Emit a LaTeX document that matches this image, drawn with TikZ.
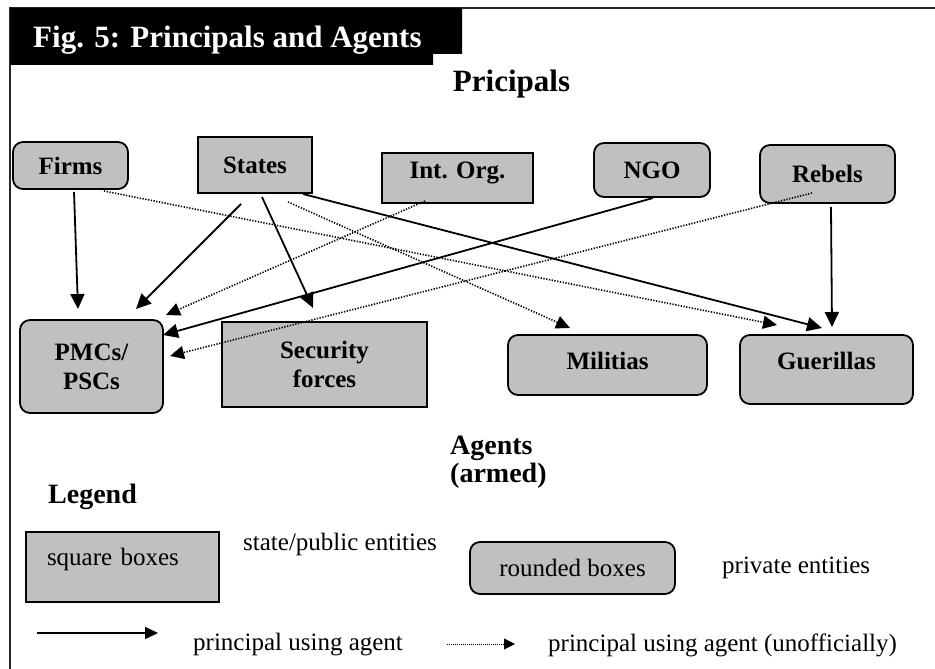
\documentclass[tikz,border=0pt]{standalone}
\usepackage{fontspec}
\setmainfont{Liberation Serif}
\usepackage{tikz}
\usetikzlibrary{calc,arrows.meta}
\definecolor{boxgray}{RGB}{192,192,192}

\begin{document}
\begin{tikzpicture}[x=1pt,y=-1pt,
labelfont/.style={font=\fontsize{25}{29}\selectfont\bfseries},
pribox/.style={draw,line width=1.8pt,fill=boxgray,rounded corners=10pt,labelfont,align=center,inner sep=0pt},
pubbox/.style={draw,line width=1.8pt,fill=boxgray,labelfont,align=center,inner sep=0pt},
useline/.style={line width=1.8pt,-{Triangle[length=15pt,width=14pt]}},
unofficial/.style={line width=1.6pt,dash pattern=on 1.3pt off 1.5pt,-{Triangle[length=14pt,width=13pt]}},
plain/.style={font=\fontsize{25}{29}\selectfont,inner sep=0pt}
]
\useasboundingbox (0,0) rectangle (935,669);
\draw[line width=1.5pt,black!85] (10,669) -- (10,8) -- (935,8);
\fill[black] (10,8) -- (462,8) -- (462,54) -- (433,54) -- (433,65) -- (10,65) -- cycle;
\node[anchor=base west,inner sep=0pt,text=white,font=\fontsize{31}{35}\selectfont\bfseries] (title) at (33,48) {Fig. 5: Principals and Agents};
\node[anchor=base,inner sep=0pt,font=\fontsize{31}{35}\selectfont\bfseries] (principals) at (511.5,92) {Pricipals};

% principals
\node[pribox,minimum width=115pt,minimum height=47pt] (firms) at (70.5,165.5) {Firms};
\node[pubbox,minimum width=114pt,minimum height=56pt] (states) at (255,165) {States};
\node[pubbox,minimum width=151pt,minimum height=50pt,text depth=16pt] (intorg) at (457.5,178) {Int. Org.};
\node[pribox,minimum width=116pt,minimum height=54pt] (ngo) at (652,170) {NGO};
\node[pribox,minimum width=135pt,minimum height=58pt] (rebels) at (827.5,174) {Rebels};

% agents
\node[pribox,minimum width=143pt,minimum height=93pt] (pmc) at (91.5,366.5) {PMCs/\\PSCs};
\node[pubbox,minimum width=205pt,minimum height=85pt] (secforces) at (324.5,364.5) {Security\\forces};
\node[pribox,minimum width=199pt,minimum height=60pt,text depth=9pt] (militias) at (607.5,365) {Militias};
\node[pribox,minimum width=173pt,minimum height=69pt,text depth=18pt] (guerillas) at (826.5,369.5) {Guerillas};
\node[anchor=base west,inner sep=0pt,align=left,font=\fontsize{28}{28}\selectfont\bfseries] (agents) at (450,482) {Agents\\(armed)};

\draw[useline] ($(firms)+(3.5,26.5)$) -- ($(pmc)+(-13.5,-57.5)$);
\draw[useline] ($(states)+(-14,39)$) -- ($(pmc)+(44.5,-57.5)$);
\draw[useline] ($(states)+(7,32)$) -- ($(secforces)+(-11.5,-56.5)$);
\draw[useline] ($(states)+(48,29)$) -- ($(guerillas)+(-4.5,-41.5)$);
\draw[useline] ($(ngo)+(1,28)$) -- ($(pmc)+(71.5,-31.5)$);
\draw[useline] ($(rebels)+(3.5,33)$) -- ($(guerillas)+(5.5,-42.5)$);
\draw[unofficial] ($(states)+(33,37)$) -- ($(militias)+(-37.5,-37)$);
\draw[unofficial] ($(firms)+(33.5,25.5)$) -- ($(guerillas)+(-49.5,-44.5)$);
\draw[unofficial] ($(intorg)+(-32.5,23)$) -- ($(pmc)+(74.5,-51.5)$);
\draw[unofficial] ($(rebels)+(-15.5,19)$) -- ($(pmc)+(78.5,-10.5)$);

% legend
\node[anchor=base west,inner sep=0pt,font=\fontsize{28}{28}\selectfont\bfseries] (legend) at (48,503) {Legend};
\node[draw,line width=1.8pt,fill=boxgray,plain,minimum height=70pt,inner xsep=21pt,text width=151pt,align=left,text depth=21pt] (sqbox) at (122.5,567) {square boxes};
\node[plain,anchor=base west] (sqtext) at (243,550) {state/public entities};
\node[draw,line width=1.8pt,fill=boxgray,rounded corners=10pt,plain,minimum width=205pt,minimum height=52pt] (rdbox) at (572.5,568) {rounded boxes};
\node[plain,anchor=base west] (rdtext) at (722,573) {private entities};
\coordinate (solida) at (37,633);
\coordinate (solidb) at (158,633);
\draw[line width=1.5pt,-{Triangle[length=13pt,width=12pt]}] (solida) -- (solidb);
\node[plain,anchor=base west] (solidtext) at (193,650) {principal using agent};
\coordinate (dotta) at (447,644);
\coordinate (dottb) at (515,644);
\draw[line width=1pt,dash pattern=on 0.8pt off 1.2pt,-{Triangle[length=11pt,width=11pt]}] (dotta) -- (dottb);
\node[plain,anchor=base west] (dottext) at (548,651) {principal using agent (unofficially)};
\end{tikzpicture}
\end{document}
